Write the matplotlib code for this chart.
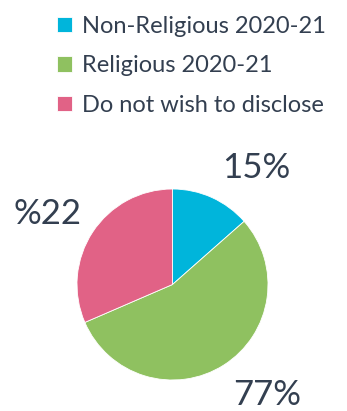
import matplotlib
matplotlib.use("Agg")
import matplotlib.pyplot as plt

plt.rcParams['font.family'] = ['Lato', 'DejaVu Sans']

# data (slice sizes) and the printed labels
categories = ["Non-Religious 2020-21", "Religious 2020-21", "Do not wish to disclose"]
values = [13.5, 55.0, 31.5]
shown_labels = ["15%", "77%", "%22"]
colors = ["#00B5DB", "#8FC160", "#E16286"]
text_color = "#333F50"

fig = plt.figure(figsize=(3.47, 4.11), dpi=100)

# pie axes placed so the circle sits where it is in the reference
ax = fig.add_axes([77 / 347, 31 / 411, 191 / 347, 191 / 411])
wedges, _ = ax.pie(values, colors=colors, startangle=90, counterclock=False,
                   radius=1, wedgeprops=dict(edgecolor="white", linewidth=0.6))
ax.set_xlim(-1, 1)
ax.set_ylim(-1, 1)
ax.set_aspect("equal")
ax.axis("off")

# outside labels (positions in pie units)
label_pos = [(0.874, 1.22), (0.99, -1.157), (-1.314, 0.738)]
for txt, (x, y) in zip(shown_labels, label_pos):
    ax.text(x, y, txt, ha="center", va="center", fontsize=25,
            color=text_color, clip_on=False)

leg = fig.legend(wedges, categories, loc="upper left",
                 bbox_to_anchor=(57 / 347, 1 - 16 / 411),
                 frameon=False, fontsize=17, labelcolor=text_color,
                 handlelength=0.62, handleheight=0.62, handletextpad=0.42,
                 labelspacing=0.78, borderpad=0, borderaxespad=0)

fig.savefig("out.png", dpi=100)
